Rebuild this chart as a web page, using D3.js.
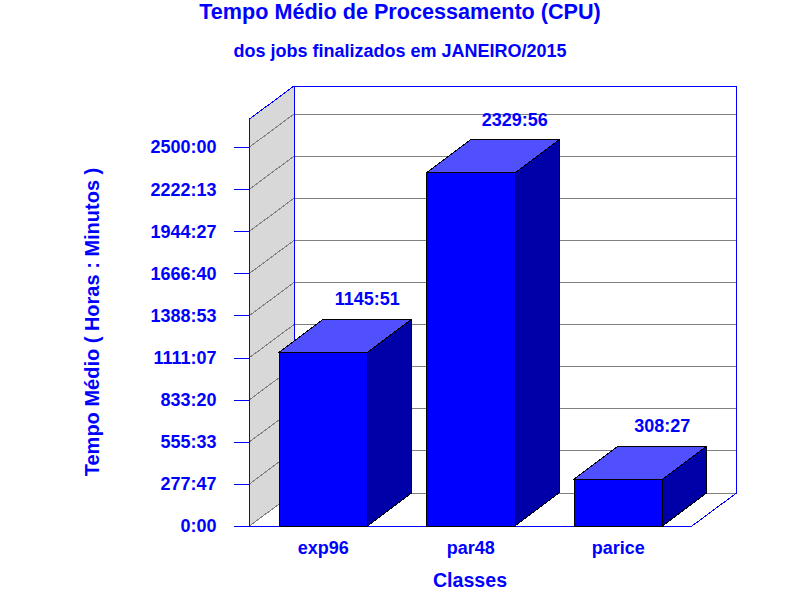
<!DOCTYPE html>
<html><head><meta charset="utf-8">
<script src="https://cdn.jsdelivr.net/npm/d3@7"></script>
<style>html,body{margin:0;background:#fff}svg{display:block}text{font-family:"Liberation Sans",Arial,sans-serif;font-weight:bold;fill:#0000ff}path,line,rect{shape-rendering:crispEdges}</style>
</head><body><svg id="c" width="800" height="600"></svg>
<script>
const categories = ["exp96", "par48", "parice"];
const valueLabels = ["1145:51", "2329:56", "308:27"];
const valuesHours = [1145.85, 2329.93, 308.45];
const tickLabels = ["0:00","277:47","555:33","833:20","1111:07","1388:53","1666:40","1944:27","2222:13","2500:00"];
const tickHours = [0,277.78,555.55,833.33,1111.12,1388.88,1666.67,1944.45,2222.22,2500];
const yTop = 2685;
const title = "Tempo Médio de Processamento (CPU)";
const subtitle = "dos jobs finalizados em JANEIRO/2015";
const yTitle = "Tempo Médio ( Horas : Minutos )";
const xTitle = "Classes";

const svg = d3.select("#c");
const dx = 44.5, dy = 33, barDx = 44;
const x = d3.scaleBand().domain(categories).range([249.5, 692]).paddingInner(0.4).paddingOuter(0.2);
const y = d3.scaleLinear().domain([0, yTop]).range([526, 119]);
const L = x.range()[0], R = x.range()[1], B = y(0), T = y(yTop);
const line = d3.line();

svg.append("path").attr("fill", "#d8d8d8").attr("stroke", "none")
  .attr("d", line([[L,B],[L+dx,B-dy],[L+dx,T-dy],[L,T]])+"Z");

const grid = svg.append("g").attr("fill","none").attr("stroke","#808080").attr("stroke-width",1);
tickHours.forEach(v => {
  grid.append("path").attr("d", line([[L,y(v)],[L+dx,y(v)-dy],[R+dx,y(v)-dy]]));
});

const frame = svg.append("g").attr("fill","none").attr("stroke","#0000ff").attr("stroke-width",1);
frame.append("path").attr("d", line([[L,B],[L,T],[L+dx,T-dy],[R+dx,T-dy],[R+dx,B-dy],[R,B]]));
frame.append("path").attr("d", line([[L+dx,T-dy],[L+dx,B-dy]]));

const axis = d3.axisLeft(y).tickValues(tickHours).tickSize(16).tickPadding(17)
  .tickFormat((d,i) => tickLabels[i]);
const ga = svg.append("g").attr("transform", `translate(${L},0)`).call(axis);
ga.select(".domain").remove();
ga.selectAll("line").attr("stroke","#0000ff");
ga.selectAll("text").attr("font-size",18).attr("dy","0.33em");
svg.append("path").attr("fill","none").attr("stroke","#0000ff").attr("d", line([[L-16,B],[R,B]]));

const bars = svg.append("g").attr("stroke","#000").attr("stroke-width",1).attr("stroke-linejoin","miter");
categories.forEach((c,i) => {
  const x0 = x(c), x1 = x0 + x.bandwidth(), t = y(valuesHours[i]);
  bars.append("path").attr("fill","#0000a8").attr("d", line([[x1,B],[x1+barDx,B-dy],[x1+barDx,t-dy],[x1,t]])+"Z");
  bars.append("path").attr("fill","#5050ff").attr("d", line([[x0,t],[x0+barDx,t-dy],[x1+barDx,t-dy],[x1,t]])+"Z");
  bars.append("rect").attr("fill","#0000ff").attr("x",x0).attr("y",t).attr("width",x.bandwidth()).attr("height",B-t);
  svg.append("text").attr("x",x0+barDx+x.bandwidth()/2).attr("y",t-dy-14).attr("text-anchor","middle")
    .attr("font-size",18).text(valueLabels[i]);
  svg.append("text").attr("x",x0+x.bandwidth()/2).attr("y",554).attr("text-anchor","middle")
    .attr("font-size",18).text(c);
});

svg.append("text").attr("x",400).attr("y",19).attr("text-anchor","middle").attr("font-size",21.6).text(title);
svg.append("text").attr("x",400).attr("y",57).attr("text-anchor","middle").attr("font-size",18).text(subtitle);
svg.append("text").attr("x",470).attr("y",587).attr("text-anchor","middle").attr("font-size",19.6).text(xTitle);
svg.append("text").attr("transform","translate(99,322) rotate(-90)").attr("text-anchor","middle").attr("font-size",20).text(yTitle);
</script></body></html>
